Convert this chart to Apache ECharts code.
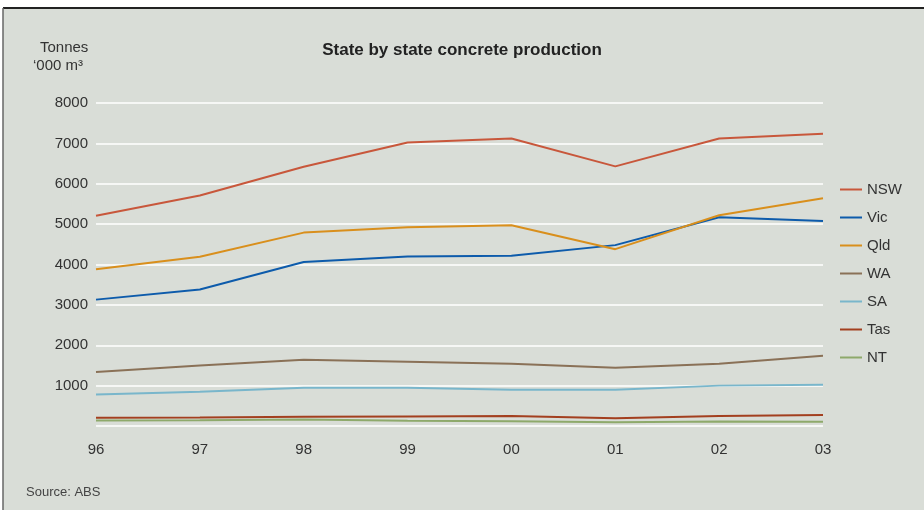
<!DOCTYPE html>
<html><head><meta charset="utf-8">
<script src="https://cdn.jsdelivr.net/npm/echarts@6/dist/echarts.min.js"></script>
<style>html,body{margin:0;padding:0;background:#fff}#c{width:924px;height:510px}</style>
</head><body><div id="c"></div>
<script>
const years = ['96','97','98','99','00','01','02','03'];
const NSW = [5210, 5710, 6420, 7020, 7120, 6430, 7120, 7240];
const Vic = [3130, 3380, 4060, 4200, 4215, 4480, 5170, 5080];
const Qld = [3880, 4190, 4790, 4920, 4970, 4380, 5220, 5640];
const WA  = [1340, 1500, 1640, 1590, 1540, 1440, 1540, 1740];
const SA  = [780, 850, 950, 950, 900, 900, 1000, 1020];
const Tas = [205, 210, 230, 237, 247, 190, 250, 272];
const NT  = [138, 140, 163, 131, 120, 95, 110, 106];
const names = ['NSW','Vic','Qld','WA','SA','Tas','NT'];
const dataSets = [NSW, Vic, Qld, WA, SA, Tas, NT];
const colors = ['#c8573b','#0d5bab','#d98f1c','#8a7157','#79b6cb','#a33f1f','#8ea96b'];
const font = '"Liberation Sans", Arial, sans-serif';

const chart = echarts.init(document.getElementById('c'));
chart.setOption({
  backgroundColor: '#ffffff',
  animation: false,
  color: colors,
  textStyle: { fontFamily: font },
  graphic: [
    { type: 'rect', z: -10, shape: { x: 3, y: 8, width: 921, height: 502 }, style: { fill: '#d9ddd7' } },
    { type: 'line', z: -5, shape: { x1: 3, y1: 8, x2: 924, y2: 8 }, style: { stroke: '#222', lineWidth: 2 } },
    { type: 'line', z: -5, shape: { x1: 3, y1: 8, x2: 3, y2: 510 }, style: { stroke: '#666', lineWidth: 1.5 } },
    { type: 'text', left: 40, top: 40, style: { text: 'Tonnes', font: '15px ' + font, fill: '#333' } },
    { type: 'text', left: 33, top: 58, style: { text: '\u2018000 m\u00b3', font: '15px ' + font, fill: '#333' } },
    { type: 'text', left: 26, top: 486, style: { text: 'Source: ABS', font: '13px ' + font, fill: '#444' } }
  ],
  title: {
    text: 'State by state concrete production',
    left: 'center', top: 37,
    textStyle: { fontSize: 17, fontWeight: 'bold', color: '#222', fontFamily: font }
  },
  legend: {
    orient: 'vertical', left: 835, top: 176, itemGap: 11,
    itemWidth: 22, itemHeight: 17, icon: 'path://M0,7.5 L22,7.5 L22,9.5 L0,9.5 Z',
    textStyle: { fontSize: 15, color: '#333', fontFamily: font, lineHeight: 17 },
    data: names
  },
  grid: { left: 96, right: 101, top: 103, bottom: 84 },
  xAxis: {
    type: 'category', data: years, boundaryGap: false,
    axisLine: { show: false }, axisTick: { show: false },
    axisLabel: { fontSize: 15, color: '#333', margin: 16, fontFamily: font },
    splitLine: { show: false }
  },
  yAxis: {
    type: 'value', min: 0, max: 8000, interval: 1000,
    axisLine: { show: false }, axisTick: { show: false },
    axisLabel: { fontSize: 15, color: '#333', margin: 8, fontFamily: font,
      formatter: v => v === 0 ? '' : String(v) },
    splitLine: { lineStyle: { color: '#ffffff', width: 1.5 } }
  },
  series: dataSets.map((d, i) => ({
    name: names[i], type: 'line', data: d, symbol: 'none',
    lineStyle: { width: 2, color: colors[i] }, itemStyle: { color: colors[i] }
  }))
});
</script></body></html>
